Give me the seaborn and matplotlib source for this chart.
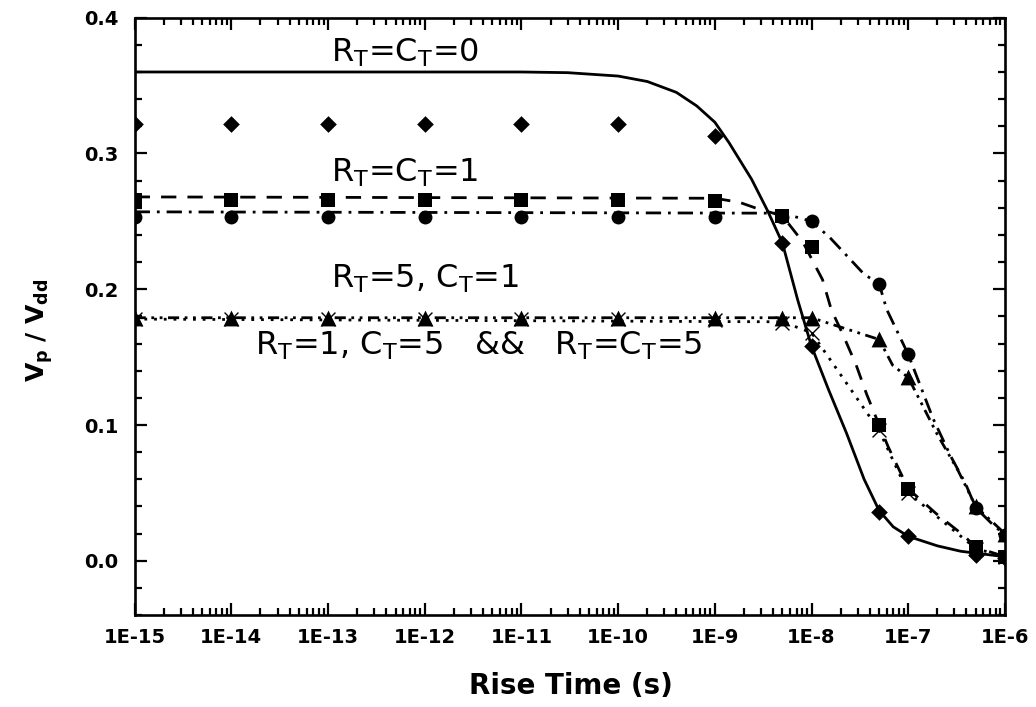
import numpy as np
import pandas as pd
import matplotlib
matplotlib.use("Agg")
import matplotlib.pyplot as plt
import matplotlib.ticker as mticker
import seaborn as sns

# ---------------- data ----------------
rise_time = [1e-15, 1e-14, 1e-13, 1e-12, 1e-11, 1e-10, 1e-9, 5e-9, 1e-8, 5e-8, 1e-7, 5e-7, 1e-6]

diamond_vals = [0.322, 0.322, 0.322, 0.322, 0.322, 0.322, 0.313, 0.234, 0.158, 0.036, 0.018, 0.004, 0.002]
square_vals = [0.266, 0.266, 0.266, 0.266, 0.266, 0.266, 0.265, 0.254, 0.231, 0.100, 0.053, 0.010, 0.003]
circle_vals = [0.253, 0.253, 0.253, 0.253, 0.253, 0.253, 0.253, 0.253, 0.250, 0.204, 0.152, 0.039, 0.019]
triangle_vals = [0.179, 0.179, 0.179, 0.179, 0.179, 0.179, 0.179, 0.179, 0.179, 0.163, 0.135, 0.040, 0.020]
cross_vals = [0.178, 0.178, 0.178, 0.178, 0.178, 0.178, 0.177, 0.175, 0.168, 0.096, 0.050, 0.009, 0.003]

# curve R_T=C_T=0 (solid)
solid_x = [1e-15, 1e-11, 3e-11, 1e-10, 2e-10, 4e-10, 6.5e-10, 1e-9, 1.4e-9, 2.4e-9, 3.5e-9, 5e-9,
           7.2e-9, 1e-8, 1.5e-8, 2.3e-8, 3.5e-8, 5e-8, 7e-8, 1e-7, 2e-7, 3.5e-7, 1e-6]
solid_y = [0.360, 0.360, 0.3595, 0.357, 0.353, 0.345, 0.335, 0.323, 0.308, 0.281, 0.258, 0.234,
           0.192, 0.158, 0.126, 0.094, 0.060, 0.037, 0.025, 0.018, 0.011, 0.007, 0.003]

# curve R_T=C_T=1 (dashed)
dash_x = [1e-15, 1e-9, 1.8e-9, 2.6e-9, 5e-9, 8.1e-9, 1.3e-8, 1.6e-8, 2.1e-8, 2.9e-8, 3.7e-8, 5e-8, 6.2e-8, 1e-7, 2e-7, 3.7e-7, 5e-7, 1e-6]
dash_y = [0.268, 0.267, 0.264, 0.260, 0.254, 0.235, 0.207, 0.185, 0.167, 0.144, 0.123, 0.100, 0.084, 0.053, 0.034, 0.019, 0.010, 0.003]

# curve R_T=5, C_T=1 (dash-dot)
dashdot_x = [1e-15, 5e-9, 1e-8, 1.55e-8, 3.5e-8, 5e-8, 6e-8, 1e-7, 1.8e-7, 2.75e-7, 3.9e-7, 5e-7, 7.4e-7, 1e-6]
dashdot_y = [0.257, 0.256, 0.250, 0.238, 0.211, 0.204, 0.185, 0.152, 0.105, 0.077, 0.057, 0.039, 0.027, 0.019]

# curve R_T=C_T=5 (dash-dot-dot)
ddd_x = [1e-15, 1e-8, 5e-8, 6.9e-8, 1e-7, 2e-7, 3.3e-7, 5e-7, 1e-6]
ddd_y = [0.179, 0.179, 0.163, 0.144, 0.135, 0.093, 0.066, 0.040, 0.020]

# curve R_T=1, C_T=5 (dotted)
dot_x = [1e-15, 5e-9, 1e-8, 1.6e-8, 2.8e-8, 5e-8, 1e-7, 5e-7, 1e-6]
dot_y = [0.178, 0.176, 0.168, 0.147, 0.122, 0.096, 0.050, 0.009, 0.003]

x_ticks = [1e-15, 1e-14, 1e-13, 1e-12, 1e-11, 1e-10, 1e-9, 1e-8, 1e-7, 1e-6]
x_tick_labels = ["1E-15", "1E-14", "1E-13", "1E-12", "1E-11", "1E-10", "1E-9", "1E-8", "1E-7", "1E-6"]
y_ticks = [0.0, 0.1, 0.2, 0.3, 0.4]
y_tick_labels = ["0.0", "0.1", "0.2", "0.3", "0.4"]

# ---------------- style ----------------
sns.set_theme(style="ticks")
plt.rcParams["font.family"] = ["DejaVu Sans"]
plt.rcParams["mathtext.fontset"] = "dejavusans"
plt.rcParams["text.color"] = "black"
plt.rcParams["axes.labelcolor"] = "black"
plt.rcParams["xtick.color"] = "black"
plt.rcParams["ytick.color"] = "black"
plt.rcParams["axes.edgecolor"] = "black"

fig = plt.figure(figsize=(10.36, 7.07), dpi=100)
ax = fig.add_axes([0.130, 0.130, 0.840, 0.845])

lw = 2.0
sns.lineplot(x=solid_x, y=solid_y, ax=ax, color="black", linewidth=lw,
             estimator=None, sort=False, linestyle="-")
sns.lineplot(x=dash_x, y=dash_y, ax=ax, color="black", linewidth=lw,
             estimator=None, sort=False, linestyle=(0, (5.5, 4.0)))
sns.lineplot(x=dashdot_x, y=dashdot_y, ax=ax, color="black", linewidth=lw,
             estimator=None, sort=False, linestyle=(0, (5.5, 2.5, 1.0, 2.5)))
sns.lineplot(x=ddd_x, y=ddd_y, ax=ax, color="black", linewidth=lw,
             estimator=None, sort=False, linestyle=(0, (4.0, 2.0, 1.0, 2.0, 1.0, 2.0)))
sns.lineplot(x=dot_x, y=dot_y, ax=ax, color="black", linewidth=lw,
             estimator=None, sort=False, linestyle=(0, (1.0, 2.5)))

sns.scatterplot(x=rise_time, y=diamond_vals, ax=ax, marker="D", s=72, color="black", linewidth=0, zorder=4)
sns.scatterplot(x=rise_time, y=square_vals, ax=ax, marker="s", s=100, color="black", linewidth=0, zorder=4)
sns.scatterplot(x=rise_time, y=circle_vals, ax=ax, marker="o", s=100, color="black", linewidth=0, zorder=4)
sns.scatterplot(x=rise_time, y=cross_vals, ax=ax, marker="x", s=100, color="black", linewidth=1.0, zorder=4)
sns.scatterplot(x=rise_time, y=triangle_vals, ax=ax, marker="^", s=130, color="black", linewidth=0, zorder=4)

ax.set_xscale("log")
ax.set_xlim(1e-15, 1e-6)
ax.set_ylim(-0.04, 0.4)

ax.xaxis.set_major_locator(mticker.FixedLocator(x_ticks))
ax.xaxis.set_major_formatter(mticker.FixedFormatter(x_tick_labels))
ax.xaxis.set_minor_locator(mticker.LogLocator(base=10, subs=np.arange(2, 10), numticks=200))
ax.xaxis.set_minor_formatter(mticker.NullFormatter())
ax.yaxis.set_major_locator(mticker.FixedLocator(y_ticks))
ax.yaxis.set_major_formatter(mticker.FixedFormatter(y_tick_labels))
ax.yaxis.set_minor_locator(mticker.MultipleLocator(0.02))

ax.tick_params(which="both", direction="in", top=True, right=True, color="black",
               labelcolor="black", width=1.6)
ax.tick_params(which="major", length=8.5, labelsize=14)
ax.tick_params(axis="x", which="major", pad=9)
ax.tick_params(axis="y", which="major", pad=12)
ax.tick_params(which="minor", length=5)
for lab in ax.get_xticklabels() + ax.get_yticklabels():
    lab.set_fontweight("bold")
for sp in ax.spines.values():
    sp.set_linewidth(1.9)
    sp.set_color("black")

ax.set_xlabel("Rise Time (s)", fontsize=20, fontweight="bold", color="black")
ax.xaxis.set_label_coords(0.501, -0.095)
ax.set_ylabel(r"$\mathbf{V_p\ /\ V_{dd}}$", fontsize=18, color="black")
ax.yaxis.set_label_coords(-0.092, 0.476)

txt_kw = dict(fontsize=23, color="black", ha="left", va="baseline")
ax.text(10 ** -12.97, 0.368, r"R$_\mathregular{T}$=C$_\mathregular{T}$=0", **txt_kw)
ax.text(10 ** -12.97, 0.279, r"R$_\mathregular{T}$=C$_\mathregular{T}$=1", **txt_kw)
ax.text(10 ** -12.97, 0.201, r"R$_\mathregular{T}$=5, C$_\mathregular{T}$=1", **txt_kw)
ax.text(10 ** -13.76, 0.152, r"R$_\mathregular{T}$=1, C$_\mathregular{T}$=5   &&   R$_\mathregular{T}$=C$_\mathregular{T}$=5", **txt_kw)

fig.savefig("out.png", dpi=100)
